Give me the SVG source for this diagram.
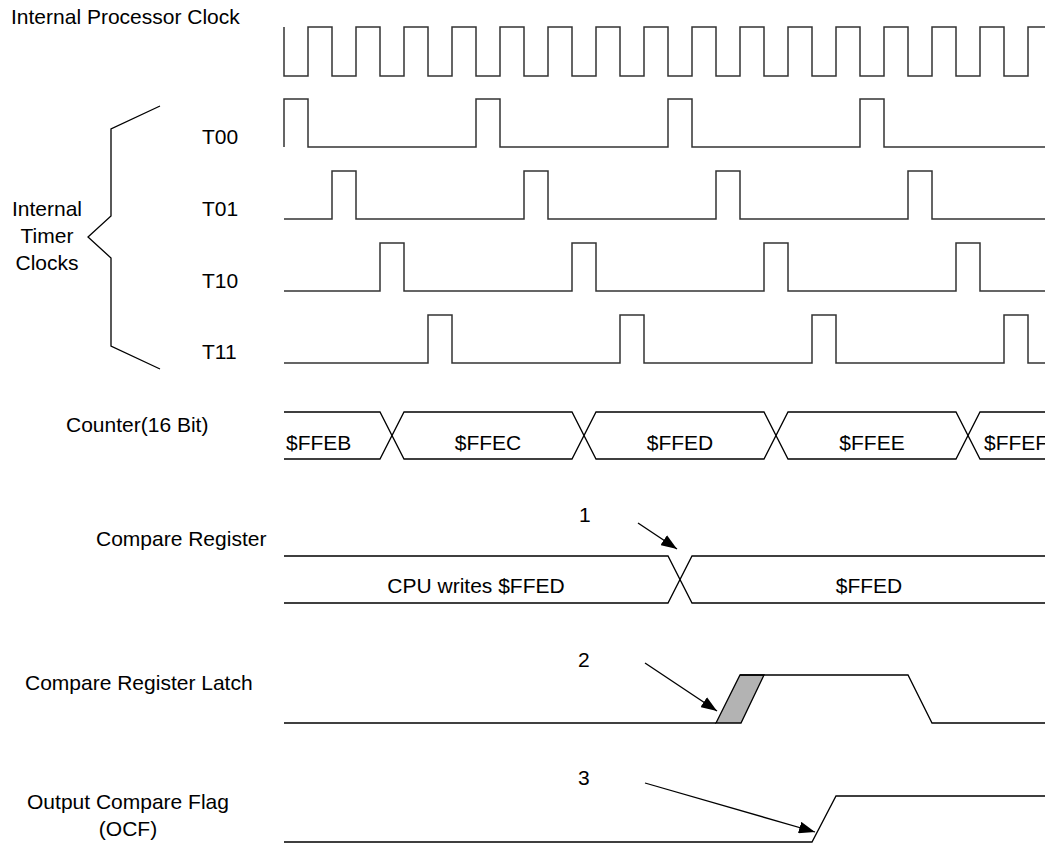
<svg xmlns="http://www.w3.org/2000/svg" width="1045" height="844" viewBox="0 0 1045 844">
<style>
text{font-family:"Liberation Sans",Arial,sans-serif;font-size:21px;fill:#000}
.w{fill:none;stroke:#333;stroke-width:1.5}
.s{fill:none;stroke:#000;stroke-width:1.3}
.m{text-anchor:middle}
</style>
<defs>
<marker id="ah" viewBox="0 0 16 12" refX="16" refY="6" markerWidth="16" markerHeight="12" markerUnits="userSpaceOnUse" orient="auto">
<path d="M0,0 L16,6 L0,12 z" fill="#000"/>
</marker>
</defs>
<rect width="1045" height="844" fill="#fff"/>
<g id="clock">
<text x="11" y="24">Internal Processor Clock</text>
<path class="w" d="M284,27 V76 H308 V27 H332 V76 H356 V27 H380 V76 H404 V27 H428 V76 H452 V27 H476 V76 H500 V27 H524 V76 H548 V27 H572 V76 H596 V27 H620 V76 H644 V27 H668 V76 H692 V27 H716 V76 H740 V27 H764 V76 H788 V27 H812 V76 H836 V27 H860 V76 H884 V27 H908 V76 H932 V27 H956 V76 H980 V27 H1004 V76 H1028 V27 H1045"/>
</g>
<g id="timer-clocks">
<polyline class="s" points="160,106 111,129 111,216 88,237 111,258 111,346 160,369"/>
<text class="m" x="47" y="216">Internal</text>
<text class="m" x="47" y="243">Timer</text>
<text class="m" x="47" y="270">Clocks</text>
</g>
<g id="t00">
<text x="202" y="144">T00</text>
<path class="w" d="M284,147 V99 H308 V147 H476 V99 H500 V147 H668 V99 H692 V147 H860 V99 H884 V147 H1045"/>
</g>
<g id="t01">
<text x="202" y="216">T01</text>
<path class="w" d="M284,219 H332 V171 H356 V219 H524 V171 H548 V219 H716 V171 H740 V219 H908 V171 H932 V219 H1045"/>
</g>
<g id="t10">
<text x="202" y="288">T10</text>
<path class="w" d="M284,291 H380 V243 H404 V291 H572 V243 H596 V291 H764 V243 H788 V291 H956 V243 H980 V291 H1045"/>
</g>
<g id="t11">
<text x="202" y="359">T11</text>
<path class="w" d="M284,363 H428 V315 H452 V363 H620 V315 H644 V363 H812 V315 H836 V363 H1004 V315 H1028 V363 H1045"/>
</g>
<g id="counter">
<text x="66" y="432">Counter(16 Bit)</text>
<path class="s" d="M284,412 H380 L404,459 H572 L596,412 H764 L788,459 H956 L980,412 H1045"/>
<path class="s" d="M284,459 H380 L404,412 H572 L596,459 H764 L788,412 H956 L980,459 H1045"/>
<text x="286" y="450">$FFEB</text>
<text class="m" x="488" y="450">$FFEC</text>
<text class="m" x="680" y="450">$FFED</text>
<text class="m" x="872" y="450">$FFEE</text>
<text x="984" y="450">$FFEF</text>
</g>
<g id="compare-register">
<text x="96" y="546">Compare Register</text>
<path class="s" d="M284,556 H668 L692,603 H1045"/>
<path class="s" d="M284,603 H668 L692,556 H1045"/>
<text class="m" x="476" y="593">CPU writes $FFED</text>
<text class="m" x="869" y="593">$FFED</text>
</g>
<g id="compare-latch">
<text x="25" y="690">Compare Register Latch</text>
<path class="s" d="M284,723 H716"/>
<polygon points="716,723 740,675 764,675 741,723" fill="#b3b3b3" stroke="#000" stroke-width="1.3"/>
<path class="s" d="M740,675 H908 L932,723 H1045"/>
</g>
<g id="ocf">
<text class="m" x="128" y="809">Output Compare Flag</text>
<text class="m" x="128" y="836">(OCF)</text>
<path class="s" d="M284,842 H812 L836,796 H1045"/>
</g>
<g id="connectors">
<text x="579" y="522">1</text>
<line class="s" x1="638" y1="523" x2="677" y2="549" marker-end="url(#ah)"/>
<text x="578" y="667">2</text>
<line class="s" x1="645" y1="663" x2="717" y2="711" marker-end="url(#ah)"/>
<text x="578" y="785">3</text>
<line class="s" x1="645" y1="783" x2="815" y2="832" marker-end="url(#ah)"/>
</g>
</svg>
